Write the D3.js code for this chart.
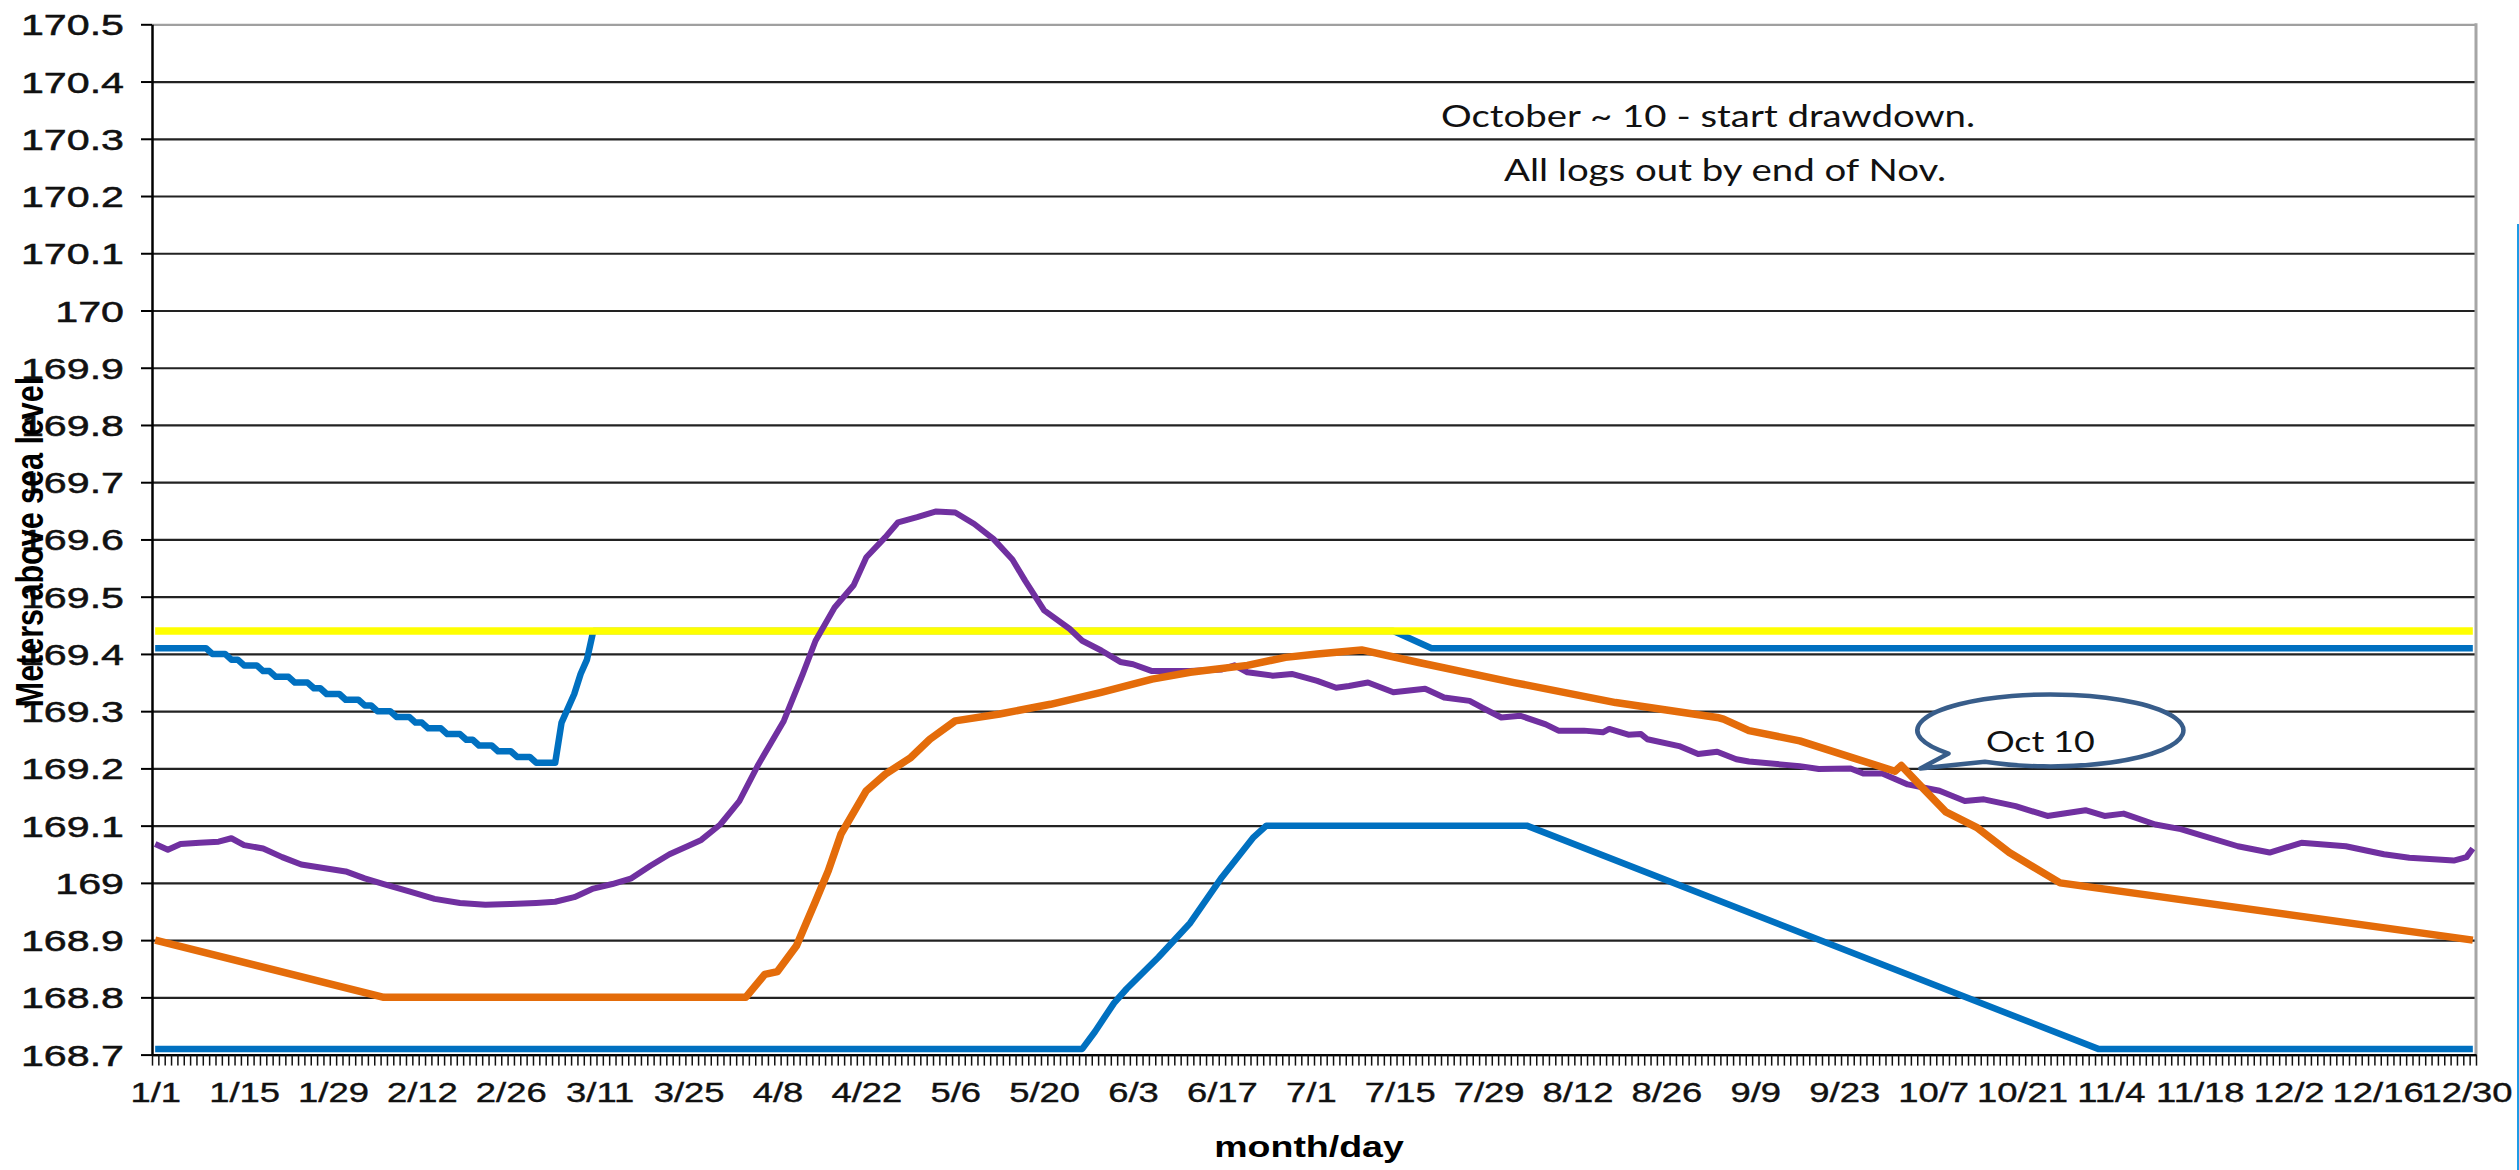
<!DOCTYPE html>
<html><head><meta charset="utf-8">
<script src="https://cdn.jsdelivr.net/npm/d3@7"></script>
<style>html,body{margin:0;padding:0;background:#fff;} svg{display:block;}</style>
</head><body>
<svg id="chart" width="2519" height="1170"></svg>
<script>
// ---------------- DATA ----------------
const YEAR = 2012;
const yTickValues = [168.7,168.8,168.9,169,169.1,169.2,169.3,169.4,169.5,169.6,169.7,169.8,169.9,170,170.1,170.2,170.3,170.4,170.5];
const xTickLabels = ["1/1","1/15","1/29","2/12","2/26","3/11","3/25","4/8","4/22","5/6","5/20","6/3","6/17","7/1","7/15","7/29","8/12","8/26","9/9","9/23","10/7","10/21","11/4","11/18","12/2","12/16","12/30"];

// upper blue rule line
const upperDates = ["1/1","1/9","1/10","1/12","1/13","1/14","1/15","1/17","1/18","1/19","1/20","1/22","1/23","1/25","1/26","1/27","1/28","1/30","1/31","2/2","2/3","2/4","2/5","2/7","2/8","2/10","2/11","2/12","2/13","2/15","2/16","2/18","2/19","2/20","2/21","2/23","2/24","2/26","2/27","2/29","3/1","3/4","3/5","3/7","3/8","3/9","3/10","7/14","7/16","7/18","7/20","12/31"];
const upperValues = [169.41,169.41,169.40,169.40,169.39,169.39,169.38,169.38,169.37,169.37,169.36,169.36,169.35,169.35,169.34,169.34,169.33,169.33,169.32,169.32,169.31,169.31,169.30,169.30,169.29,169.29,169.28,169.28,169.27,169.27,169.26,169.26,169.25,169.25,169.24,169.24,169.23,169.23,169.22,169.22,169.21,169.21,169.28,169.33,169.365,169.39,169.44,169.44,169.43,169.42,169.41,169.41];

// lower blue rule line
const lowerDates = ["1/1","5/26","5/28","5/31","6/2","6/7","6/12","6/17","6/22","6/24","8/4","11/2","12/31"];
const lowerValues = [168.71,168.71,168.74,168.79,168.815,168.87,168.93,169.01,169.08,169.10,169.10,168.71,168.71];

// orange line
const orangeDates = ["1/1","2/6","4/3","4/6","4/8","4/11","4/14","4/16","4/18","4/22","4/25","4/29","5/2","5/6","5/13","5/21","5/29","6/6","6/12","6/21","6/27","7/2","7/9","7/18","8/2","8/18","9/3","9/4","9/8","9/16","10/1","10/2","10/5","10/9","10/14","10/19","10/27","12/31"];
const orangeValues = [168.90,168.80,168.80,168.84,168.845,168.89,168.968,169.021,169.085,169.161,169.19,169.219,169.251,169.283,169.295,169.312,169.333,169.356,169.368,169.38,169.394,169.40,169.407,169.385,169.35,169.315,169.289,169.286,169.266,169.248,169.195,169.205,169.17,169.124,169.096,169.053,169.0,168.9];

// purple line
const purpleDates = ["1/1","1/3","1/5","1/8","1/11","1/13","1/15","1/18","1/21","1/24","1/28","1/31","2/3","2/6","2/10","2/14","2/18","2/22","2/26","3/1","3/4","3/7","3/10","3/13","3/16","3/19","3/22","3/25","3/27","3/30","4/2","4/5","4/9","4/12","4/14","4/17","4/20","4/22","4/25","4/27","4/30","5/3","5/6","5/9","5/12","5/15","5/17","5/20","5/24","5/26","5/29","6/1","6/3","6/6","6/12","6/17","6/19","6/21","6/25","6/28","7/2","7/5","7/7","7/10","7/14","7/19","7/22","7/26","7/28","7/31","8/3","8/7","8/9","8/13","8/16","8/17","8/20","8/22","8/23","8/28","8/31","9/3","9/6","9/8","9/16","9/19","9/24","9/26","9/29","10/3","10/8","10/12","10/15","10/20","10/25","10/31","11/3","11/6","11/11","11/15","11/18","11/24","11/29","12/4","12/11","12/17","12/21","12/28","12/30","12/31"];
const purpleValues = [169.068,169.058,169.068,169.070,169.072,169.078,169.066,169.060,169.045,169.032,169.025,169.020,169.008,168.998,168.985,168.972,168.965,168.962,168.963,168.965,168.967,168.975,168.990,168.998,169.008,169.030,169.050,169.065,169.075,169.102,169.143,169.207,169.283,169.365,169.423,169.481,169.520,169.569,169.604,169.630,169.639,169.649,169.647,169.627,169.601,169.565,169.528,169.476,169.444,169.423,169.406,169.386,169.382,169.370,169.370,169.373,169.380,169.368,169.362,169.365,169.353,169.341,169.344,169.350,169.333,169.339,169.324,169.318,169.306,169.289,169.292,169.277,169.266,169.266,169.263,169.269,169.259,169.260,169.251,169.239,169.225,169.229,169.216,169.212,169.204,169.199,169.200,169.191,169.191,169.172,169.161,169.143,169.146,169.134,169.117,169.127,169.117,169.121,169.102,169.094,169.084,169.064,169.053,169.070,169.064,169.050,169.044,169.039,169.045,169.060];

// yellow line
const yellowDates = ["1/1","12/31"];
const yellowValues = [169.44,169.44];

const noteLines = ["October ~ 10 - start drawdown.","All logs out by end of Nov."];
const calloutText = "Oct 10";
const calloutDate = "10/5", calloutValue = 169.2;

// ---------------- LAYOUT ----------------
const L = 152, R = 2476, T = 24.3, B = 1054.6;
const parse = d3.timeParse("%m/%d/%Y");
const jan1 = new Date(YEAR,0,1);
const dayOf = s => d3.timeDay.count(jan1, parse(s + "/" + YEAR));
const nDays = d3.timeDay.count(jan1, new Date(YEAR+1,0,1));

const x = d3.scaleLinear().domain([-0.5, nDays - 0.5]).range([L, R]);
const y = d3.scaleLinear().domain([168.7, 170.5]).range([B, T]);

const svg = d3.select("#chart");
svg.append("rect").attr("width",2519).attr("height",1170).attr("fill","#fff");

// gridlines
const grid = svg.append("g").attr("transform",`translate(${L},0)`)
  .call(d3.axisLeft(y).tickValues(yTickValues).tickSize(-(R-L)).tickFormat(""));
grid.select(".domain").remove();
grid.selectAll(".tick line").attr("stroke", d => d === 170.5 ? "#a0a0a0" : "#222").attr("stroke-width", 2.2);

// right border
svg.append("line").attr("x1",R).attr("x2",R).attr("y1",T-1).attr("y2",B)
  .attr("stroke","#a6a6a6").attr("stroke-width",3);

// series
const line = d3.line().x(d => x(d[0])).y(d => y(d[1]));
function series(dates, values, color, w){
  const pts = dates.map((d,i) => [dayOf(d), values[i]]);
  svg.append("path").attr("d", line(pts)).attr("fill","none").attr("stroke",color)
    .attr("stroke-width",w).attr("stroke-linejoin","round").attr("stroke-linecap","butt");
}
series(lowerDates, lowerValues, "#0070C0", 6.5);
series(upperDates, upperValues, "#0070C0", 6.5);
series(yellowDates, yellowValues, "#FFFF00", 7.5);
series(purpleDates, purpleValues, "#7030A0", 6);
series(orangeDates, orangeValues, "#E46C0A", 7.5);

const FONT = "'Liberation Sans', Arial, sans-serif";

// y axis
const yAxis = svg.append("g").attr("transform",`translate(${L},0)`)
  .call(d3.axisLeft(y).tickValues(yTickValues).tickSize(11).tickSizeOuter(0).tickFormat(d => String(d)));
yAxis.select(".domain").attr("stroke","#000").attr("stroke-width",2.5);
yAxis.selectAll(".tick line").attr("stroke","#000").attr("stroke-width",2);
yAxis.selectAll(".tick text").attr("x",0).attr("dy",null).attr("y",10.5)
  .attr("transform","translate(-28,0) scale(1.42,1)")
  .attr("font-family",FONT).attr("font-size",29).attr("fill","#111")
  .attr("stroke","#111").attr("stroke-width",0.5);

// x axis ticks (daily)
const xAxis = svg.append("g").attr("transform",`translate(0,${B})`)
  .call(d3.axisBottom(x).tickValues(d3.range(-0.5, nDays, 1)).tickSize(11).tickSizeOuter(0).tickFormat(""));
xAxis.select(".domain").attr("stroke","#000").attr("stroke-width",2.2);
xAxis.selectAll(".tick line").attr("stroke","#111").attr("stroke-width",1.5);

// x labels
const xLab = svg.append("g").attr("transform",`translate(0,${B})`)
  .call(d3.axisBottom(x).tickValues(xTickLabels.map(dayOf)).tickSize(0).tickFormat((d,i) => xTickLabels[i]));
xLab.select(".domain").remove();
xLab.selectAll(".tick text").attr("y",0).attr("dy",null)
  .attr("transform",`translate(0,${1102-B}) scale(1.3,1)`)
  .attr("font-family",FONT).attr("font-size",28).attr("fill","#111")
  .attr("stroke","#111").attr("stroke-width",0.4);

// axis titles
svg.append("text").text("month/day")
  .attr("transform","translate(1309,1157) scale(1.25,1)").attr("text-anchor","middle")
  .attr("font-family",FONT).attr("font-weight","bold").attr("font-size",30).attr("fill","#000");
svg.append("text").text("Meters above sea level")
  .attr("transform","translate(43,542) rotate(-90) scale(1,1.3)").attr("text-anchor","middle")
  .attr("font-family",FONT).attr("font-weight","bold").attr("font-size",30.5).attr("fill","#000");

// notes
const notePos = [{cx:1708, by:126.7, w:534},{cx:1725, by:180.7, w:442}];
noteLines.forEach((t,i) => {
  svg.append("text").text(t).attr("x",notePos[i].cx).attr("y",notePos[i].by).attr("text-anchor","middle")
    .attr("textLength",notePos[i].w).attr("lengthAdjust","spacingAndGlyphs")
    .attr("font-family","Lato, 'Open Sans', sans-serif").attr("font-size",30).attr("fill","#111");
});

// callout
const tx = x(dayOf(calloutDate)), ty = y(calloutValue);
const cx = tx + 130, cy = ty - 38, rx = 133, ry = 36;
const ang = a => [cx + rx*Math.cos(a*Math.PI/180), cy + ry*Math.sin(a*Math.PI/180)];
const A = ang(140), Bp = ang(119.5);
svg.append("path")
  .attr("d", `M${A[0]},${A[1]} L${tx},${ty} L${Bp[0]},${Bp[1]} A${rx},${ry} 0 1 0 ${A[0]},${A[1]} Z`)
  .attr("fill","#fff").attr("stroke","#385D8A").attr("stroke-width",4.5).attr("stroke-linejoin","round");
svg.append("text").text(calloutText).attr("x",cx-10).attr("y",cy+22).attr("text-anchor","middle")
  .attr("textLength",109).attr("lengthAdjust","spacingAndGlyphs")
  .attr("font-family","Lato, 'Open Sans', sans-serif").attr("font-size",28).attr("fill","#111");

// thin edge line at far right
svg.append("line").attr("x1",2518).attr("x2",2518).attr("y1",224).attr("y2",1170)
  .attr("stroke","#1e9be6").attr("stroke-width",2);
</script>
</body></html>
